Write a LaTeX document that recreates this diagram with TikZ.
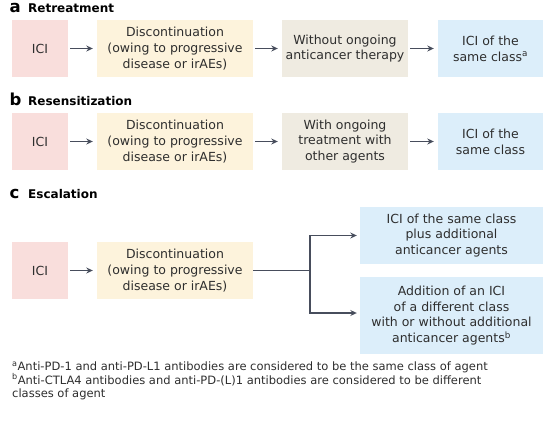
\documentclass[tikz,border=0pt]{standalone}
\usepackage{fontspec}
\setmainfont{DejaVu Sans}
\usetikzlibrary{arrows.meta}
\definecolor{cpink}{HTML}{F9DEDC}
\definecolor{cyel}{HTML}{FDF3DC}
\definecolor{cbeige}{HTML}{EFEBE1}
\definecolor{cblue}{HTML}{DCEEFA}
\definecolor{carr}{HTML}{474D5C}
\definecolor{ctext}{HTML}{2E2E2E}
\tikzset{
  box/.style={minimum height=57pt, inner sep=0pt, align=center, text=ctext,
    font=\fontsize{12.5}{15.7}\selectfont},
  icibox/.style={box, fill=cpink, minimum width=56pt},
  discbox/.style={box, fill=cyel, minimum width=156pt},
  midbox/.style={box, fill=cbeige, minimum width=126pt},
  endbox/.style={box, fill=cblue, minimum width=105pt},
  arr/.style={draw=carr, line width=1.9pt, -{Stealth[length=6.5pt,width=6pt]}},
  conn/.style={draw=carr, line width=1.9pt},
  ttl/.style={anchor=base west, inner sep=0pt, font=\bfseries\fontsize{12}{14}\selectfont},
  lbl/.style={anchor=base west, inner sep=0pt, font=\bfseries\fontsize{16.5}{18}\selectfont},
  fn/.style={anchor=base west, inner sep=0pt, text=ctext, font=\fontsize{11.5}{13}\selectfont}
}
\begin{document}
\begin{tikzpicture}[x=1pt,y=-1pt]
\useasboundingbox[fill=white] (0,0) rectangle (550,421);
% titles
\node[lbl] (la) at (9.5,12.7) {a};
\node[ttl] (ta) at (28,12.7) {Retreatment};
\node[lbl] (lb) at (9.5,105.7) {b};
\node[ttl] (tb) at (28,105.7) {Resensitization};
\node[lbl] (lc) at (9.5,198) {c};
\node[ttl] (tc) at (28,198) {Escalation};
% row a
\node[icibox] (a1) at (40,48.5) {ICI};
\node[discbox] (a2) at (175,48.5) {Discontinuation\\(owing to progressive\\disease or irAEs)};
\node[midbox] (a3) at (345,48.5) {Without ongoing\\anticancer therapy};
\node[endbox] (a4) at (490.5,48.5) {ICI of the\\same class\textsuperscript{a}};
\draw[arr, shorten <=2pt, shorten >=4pt] (a1) -- (a2);
\draw[arr, shorten <=2pt, shorten >=4pt] (a2) -- (a3);
\draw[arr, shorten <=2pt, shorten >=4pt] (a3) -- (a4);
% row b
\node[icibox] (b1) at (40,141.5) {ICI};
\node[discbox] (b2) at (175,141.5) {Discontinuation\\(owing to progressive\\disease or irAEs)};
\node[midbox] (b3) at (345,141.5) {With ongoing\\treatment with\\other agents};
\node[endbox] (b4) at (490.5,141.5) {ICI of the\\same class};
\draw[arr, shorten <=2pt, shorten >=4pt] (b1) -- (b2);
\draw[arr, shorten <=2pt, shorten >=4pt] (b2) -- (b3);
\draw[arr, shorten <=2pt, shorten >=4pt] (b3) -- (b4);
% row c
\node[icibox] (c1) at (40,270.5) {ICI};
\node[discbox] (c2) at (175,270.5) {Discontinuation\\(owing to progressive\\disease or irAEs)};
\node[box, fill=cblue, minimum width=183pt] (c3) at (451.5,235.5) {ICI of the same class\\plus additional\\anticancer agents};
\node[box, fill=cblue, minimum width=183pt, minimum height=77pt] (c4) at (451.5,315.5) {Addition of an ICI\\of a different class\\with or without additional\\anticancer agents\textsuperscript{b}};
\coordinate (j) at (310,270.5);
\coordinate (jt) at (310,235.5);
\coordinate (jb) at (310,313);
\draw[arr, shorten <=2pt, shorten >=4pt] (c1) -- (c2);
\draw[conn] (c2.east) -- (j);
\draw[conn, line cap=rect] (jt) -- (jb);
\draw[arr, shorten >=3pt] (jt) -- (c3.west);
\draw[arr, shorten >=3pt] (jb) -- (c4.west |- jb);
% footnotes
\node[fn] (f1) at (12,370.7) {\textsuperscript{a}Anti-PD-1 and anti-PD-L1 antibodies are considered to be the same class of agent};
\node[fn] (f2) at (12,384) {\textsuperscript{b}Anti-CTLA4 antibodies and anti-PD-(L)1 antibodies are considered to be different};
\node[fn] (f3) at (12,397) {classes of agent};
\end{tikzpicture}
\end{document}
